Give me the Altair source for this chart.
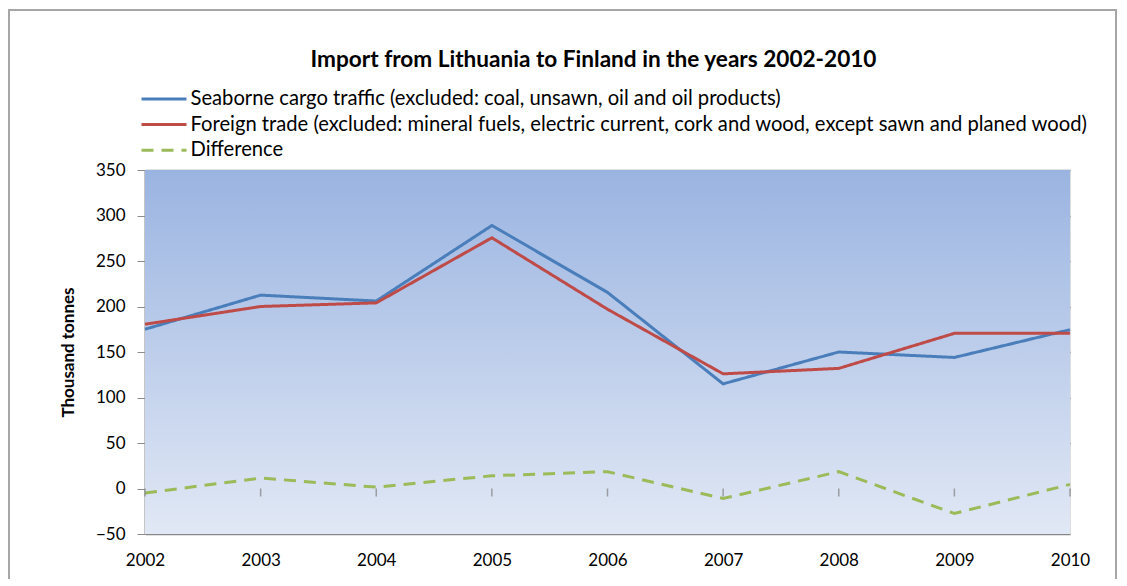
import altair as alt
import pandas as pd

years = [2002, 2003, 2004, 2005, 2006, 2007, 2008, 2009, 2010]
seaborne = [175, 212.5, 206, 289, 215.5, 115, 150, 144, 174.5]
foreign = [180.5, 200, 204, 275.5, 197, 126, 132, 170.5, 170.5]
difference = [-5, 11.5, 1.5, 14, 18.5, -11, 18.5, -27.5, 4.5]

series_names = [
    "Seaborne cargo traffic (excluded: coal, unsawn, oil and oil products)",
    "Foreign trade (excluded: mineral fuels, electric current, cork and wood, except sawn and planed wood)",
    "Difference",
]
series_colors = ["#4A7EBB", "#BE4B48", "#9BBB59"]
series_dash = [[1, 0], [1, 0], [12, 8]]

rows = []
for name, vals in zip(series_names, [seaborne, foreign, difference]):
    for y, v in zip(years, vals):
        rows.append({"year": y, "value": v, "series": name})
df = pd.DataFrame(rows)

FONT = "Lato"

xscale = alt.Scale(domain=[2002, 2010], nice=False, zero=False)
yscale = alt.Scale(domain=[-50, 350], nice=False, zero=False)

legend_cfg = dict(
    title=None, orient="none", legendX=7.5, legendY=-82.5,
    direction="vertical", symbolType="M-2.25,0H2.25", symbolSize=400,
    symbolStrokeWidth=3, labelFont=FONT, labelFontSize=20.2,
    labelColor="#000000", labelLimit=0, labelOffset=15,
    rowPadding=3.6,
)

bg = alt.Chart(pd.DataFrame({"a": [0]})).mark_rect(
    color=alt.Gradient(
        gradient="linear",
        stops=[
            alt.GradientStop(color="#9AB4E1", offset=0),
            alt.GradientStop(color="#E1E8F5", offset=1),
        ],
        x1=0, x2=0, y1=0, y2=1,
    )
).encode(
    x=alt.datum(2002, scale=xscale, type="quantitative"),
    x2=alt.datum(2010),
    y=alt.datum(350, scale=yscale, type="quantitative"),
    y2=alt.datum(-50),
)

lines = alt.Chart(df).mark_line(strokeWidth=3, clip=False).encode(
    x=alt.X(
        "year:Q",
        scale=xscale,
        axis=alt.Axis(
            values=years, format="d", title=None, grid=False, domain=False,
            ticks=False, labelFontSize=17, labelFont=FONT, labelColor="#000000",
            labelPadding=18, labelFlush=False,
        ),
    ),
    y=alt.Y(
        "value:Q",
        scale=yscale,
        axis=alt.Axis(
            values=list(range(-50, 351, 50)), title="Thousand tonnes",
            titleFont=FONT, titleFontSize=17, titleFontWeight="bold",
            titleColor="#000000", titlePadding=18,
            labelFont=FONT, labelFontSize=17, labelColor="#000000",
            labelPadding=12, tickSize=8, tickColor="#8C8C8C",
            domainColor="#8C8C8C", domainWidth=2,
            grid=True, gridColor="#868686", gridWidth=1.3,
        ),
    ),
    color=alt.Color(
        "series:N",
        scale=alt.Scale(domain=series_names, range=series_colors),
        sort=series_names,
        legend=alt.Legend(**legend_cfg),
    ),
    strokeDash=alt.StrokeDash(
        "series:N",
        scale=alt.Scale(domain=series_names, range=series_dash),
        sort=series_names,
        legend=alt.Legend(**legend_cfg),
    ),
)

ticks = alt.Chart(pd.DataFrame({"year": years})).mark_tick(
    orient="vertical", size=8, thickness=1.5, color="#808080", yOffset=4
).encode(
    x=alt.X("year:Q", scale=xscale),
    y=alt.datum(0, scale=yscale, type="quantitative"),
)

frame = alt.Chart(pd.DataFrame({"a": [0]})).mark_rect(
    fill=None, stroke="#A6A6A6", strokeWidth=2, clip=False
).encode(
    x=alt.value(-136), x2=alt.value(971),
    y=alt.value(-160), y2=alt.value(440),
)

chart = alt.layer(bg, lines, ticks, frame).properties(
    width=925,
    height=364,
    padding={"left": 137, "top": 162, "right": 48, "bottom": 45},
    autosize=alt.AutoSizeParams(type="none"),
    title=alt.Title(
        "Import from Lithuania to Finland in the years 2002-2010",
        font=FONT, fontSize=22.6, fontWeight="bold", color="#000000",
        anchor="middle", dx=-14, offset=-63,
    ),
).configure_view(stroke=None).configure(background="white")

chart.save("out.html", embed_options={"renderer": "svg", "actions": False})
